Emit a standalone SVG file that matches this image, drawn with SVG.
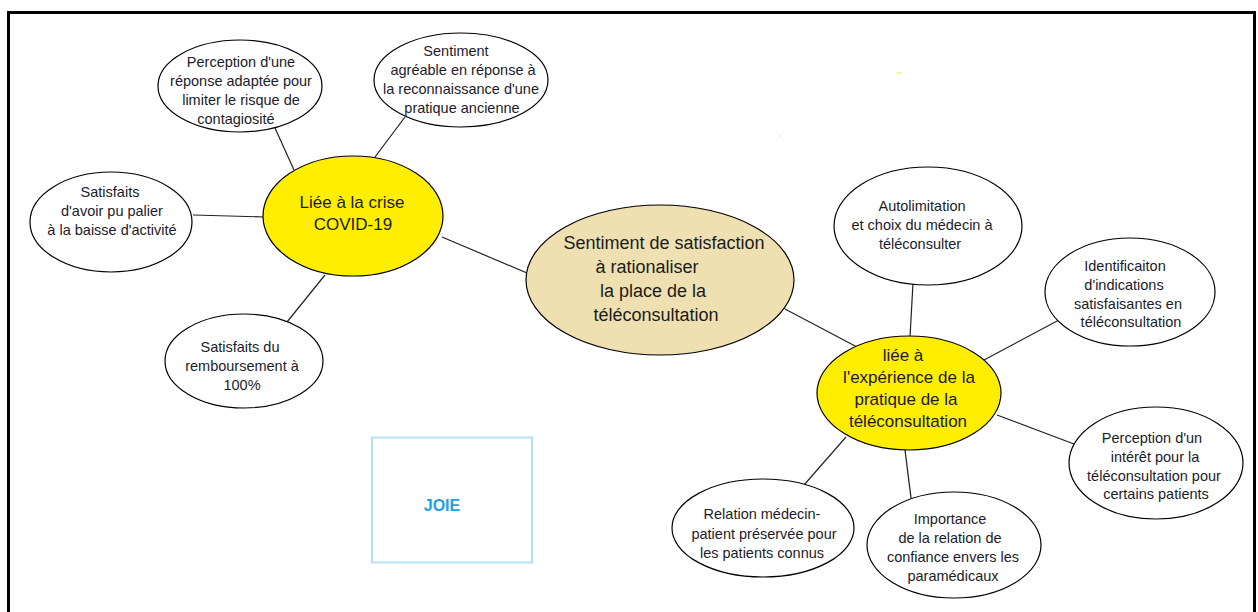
<svg xmlns="http://www.w3.org/2000/svg" width="1258" height="612" viewBox="0 0 1258 612">
<style>
.bub{fill:#fff;stroke:#000;stroke-width:1.2}
.yel{fill:#ffee00;stroke:#000;stroke-width:1.2}
.tan{fill:#eee0b0;stroke:#000;stroke-width:1.2}
.t{font-family:"Liberation Sans",Arial,sans-serif;font-size:14.5px;fill:#1c1c2c;text-anchor:middle}
.tb{font-family:"Liberation Sans",Arial,sans-serif;font-size:17px;fill:#1c1c1c;text-anchor:middle}
.tc{font-family:"Liberation Sans",Arial,sans-serif;font-size:18px;fill:#1c1c1c;text-anchor:middle}
.ln{stroke:#222;stroke-width:1.2;fill:none}
</style>
<rect x="0" y="0" width="1258" height="612" fill="#fff"/>
<rect x="8.5" y="12.5" width="1246" height="620" fill="none" stroke="#000" stroke-width="3"/>
<rect x="897" y="72.5" width="4" height="1" fill="#ffee00"/>
<rect x="779" y="135.5" width="1.5" height="1" fill="#ffee00"/>
<g id="connectors">
<line class="ln" x1="275" y1="128" x2="294" y2="170"/>
<line class="ln" x1="405" y1="117" x2="375" y2="157"/>
<line class="ln" x1="193" y1="215" x2="264" y2="217"/>
<line class="ln" x1="287" y1="322" x2="325" y2="275"/>
<line class="ln" x1="442" y1="237" x2="527" y2="273"/>
<line class="ln" x1="785" y1="309" x2="857" y2="347"/>
<line class="ln" x1="913" y1="283" x2="910" y2="337"/>
<line class="ln" x1="1059" y1="320" x2="984" y2="360"/>
<line class="ln" x1="997" y1="415" x2="1074" y2="444"/>
<line class="ln" x1="846" y1="437" x2="804" y2="485"/>
<line class="ln" x1="905" y1="450" x2="911" y2="498"/>
</g>
<g id="n-perception-reponse">
<ellipse class="bub" cx="240" cy="86" rx="82" ry="46"/>
<text class="t" x="241" y="67">Perception d'une</text>
<text class="t" x="241" y="86">réponse adaptée pour</text>
<text class="t" x="241" y="105">limiter le risque de</text>
<text class="t" x="236" y="124">contagiosité</text>
</g>
<g id="n-sentiment-agreable">
<ellipse class="bub" cx="461" cy="80" rx="87" ry="47"/>
<text class="t" x="456" y="56">Sentiment</text>
<text class="t" x="463" y="75">agréable en réponse à</text>
<text class="t" x="461" y="94">la reconnaissance d'une</text>
<text class="t" x="462" y="113">pratique ancienne</text>
</g>
<g id="n-satisfaits-palier">
<ellipse class="bub" cx="111" cy="222" rx="81" ry="50"/>
<text class="t" x="110" y="197">Satisfaits</text>
<text class="t" x="112" y="216">d'avoir pu palier</text>
<text class="t" x="112" y="235">à la baisse d'activité</text>
</g>
<g id="n-crise-covid">
<ellipse class="yel" cx="353" cy="216" rx="90" ry="60"/>
<text class="tb" x="352" y="208">Liée à la crise</text>
<text class="tb" x="353" y="230">COVID-19</text>
</g>
<g id="n-remboursement">
<ellipse class="bub" cx="244" cy="361" rx="79" ry="47"/>
<text class="t" x="240" y="352">Satisfaits du</text>
<text class="t" x="242" y="371">remboursement à</text>
<text class="t" x="242" y="390">100%</text>
</g>
<g id="n-central">
<ellipse class="tan" cx="660" cy="280" rx="134" ry="75"/>
<text class="tc" x="664" y="249">Sentiment de satisfaction</text>
<text class="tc" x="647" y="273">à rationaliser</text>
<text class="tc" x="653" y="297">la place de la</text>
<text class="tc" x="656" y="321">téléconsultation</text>
</g>
<g id="n-autolimitation">
<ellipse class="bub" cx="928" cy="226" rx="94" ry="59"/>
<text class="t" x="922" y="211">Autolimitation</text>
<text class="t" x="922" y="230">et choix du médecin à</text>
<text class="t" x="920" y="249">téléconsulter</text>
</g>
<g id="n-identification">
<ellipse class="bub" cx="1130" cy="292" rx="85" ry="54"/>
<text class="t" x="1125" y="271">Identificaiton</text>
<text class="t" x="1124" y="290">d'indications</text>
<text class="t" x="1128" y="309">satisfaisantes en</text>
<text class="t" x="1131" y="327">téléconsultation</text>
</g>
<g id="n-experience">
<ellipse class="yel" cx="909" cy="393" rx="92" ry="57"/>
<text class="tb" x="903" y="361">liée à</text>
<text class="tb" x="909" y="383">l'expérience de la</text>
<text class="tb" x="906" y="405">pratique de la</text>
<text class="tb" x="908" y="427">téléconsultation</text>
</g>
<g id="n-perception-interet">
<ellipse class="bub" cx="1156" cy="463" rx="87" ry="56"/>
<text class="t" x="1152" y="443">Perception d'un</text>
<text class="t" x="1155" y="462">intérêt pour la</text>
<text class="t" x="1154" y="481">téléconsultation pour</text>
<text class="t" x="1156" y="499">certains patients</text>
</g>
<g id="n-relation-medecin">
<ellipse class="bub" cx="763" cy="528" rx="91" ry="49"/>
<text class="t" x="762" y="519">Relation médecin-</text>
<text class="t" x="764" y="539">patient préservée pour</text>
<text class="t" x="762" y="558">les patients connus</text>
</g>
<g id="n-importance">
<ellipse class="bub" cx="954" cy="545" rx="87" ry="53"/>
<text class="t" x="950" y="524">Importance</text>
<text class="t" x="950" y="543">de la relation de</text>
<text class="t" x="953" y="562">confiance envers les</text>
<text class="t" x="953" y="581">paramédicaux</text>
</g>
<g id="n-joie">
<rect x="372" y="437.5" width="160" height="125" fill="#fff" stroke="#b3e3f3" stroke-width="2"/>
<text x="442" y="511" font-family="Liberation Sans,Arial,sans-serif" font-size="16" font-weight="bold" fill="#1ea1e6" text-anchor="middle">JOIE</text>
</g>
</svg>
